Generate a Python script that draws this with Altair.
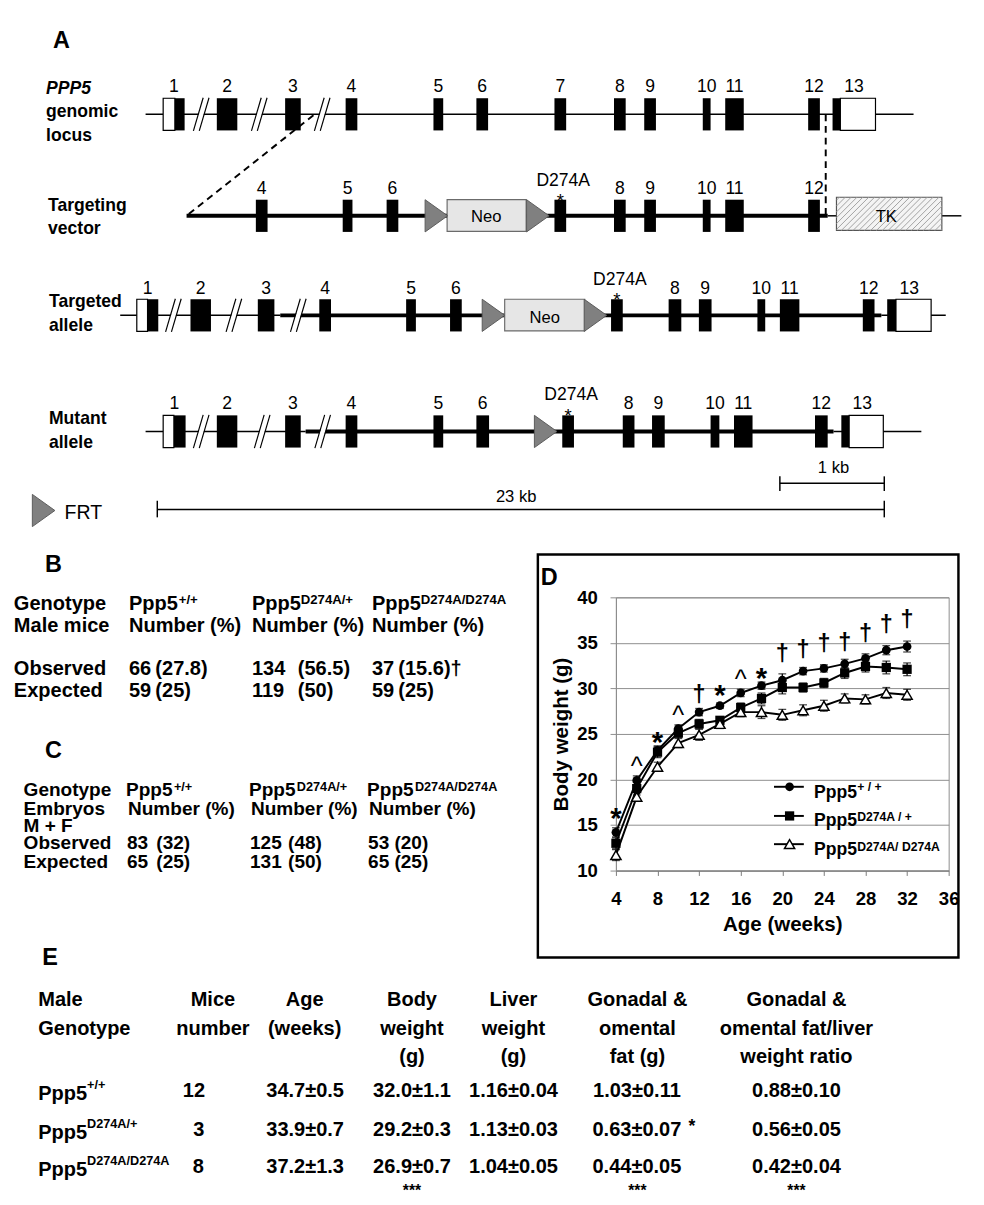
import altair as alt
import pandas as pd

FONT = "Liberation Sans"

# ======================= Panel A : gene-targeting schematic =======================
row_names = ["genomic", "vector", "targeted", "mutant"]
row_centre = [98, 202, 304, 423]
row_number_base = [75, 180, 282, 400]
row_half = 16.5

genomic_exon_labels = ["1", "2", "3", "4", "5", "6", "7", "8", "9", "10", "11", "12", "13"]
genomic_exon_start = [166, 221, 291, 353, 443, 487, 567, 628, 659, 719, 742, 827, 852]
genomic_exon_end = [188, 242, 307, 365, 453, 499, 579, 640, 671, 727, 761, 839, 896]

vector_exon_labels = ["4", "5", "6", "D274A", "8", "9", "10", "11", "12"]
vector_exon_start = [261, 350, 395, 567, 628, 659, 719, 742, 827]
vector_exon_end = [273, 360, 407, 579, 640, 671, 727, 761, 839]

targeted_exon_labels = ["1", "2", "3", "4", "5", "6", "D274A", "8", "9", "10", "11", "12", "13"]
targeted_exon_start = [139, 194, 263, 326, 415, 460, 625, 684, 715, 775, 798, 883, 908]
targeted_exon_end = [161, 215, 280, 338, 425, 472, 637, 697, 728, 783, 818, 895, 953]

mutant_exon_labels = ["1", "2", "3", "4", "5", "6", "D274A", "8", "9", "10", "11", "12", "13"]
mutant_exon_start = [166, 221, 291, 353, 443, 487, 575, 637, 667, 727, 751, 834, 861]
mutant_exon_end = [189, 242, 307, 365, 453, 500, 587, 649, 680, 736, 770, 847, 904]

utr_row = ["genomic", "genomic", "targeted", "targeted", "mutant", "mutant"]
utr_start = [166, 860, 139, 917, 166, 869]
utr_end = [178, 896, 150, 953, 177, 904]

backbone_row = ["genomic", "vector", "vector", "vector", "targeted", "targeted", "targeted",
                "mutant", "mutant", "mutant"]
backbone_start = [148, 190, 847, 964, 122, 286, 902, 148, 312, 853]
backbone_end = [935, 847, 856, 984, 286, 902, 968, 312, 853, 943]
backbone_width = [1.5, 4, 1.5, 1.5, 1.5, 4, 1.5, 1.5, 4, 1.5]

break_row = ["genomic"] * 3 + ["targeted"] * 3 + ["mutant"] * 3
break_x = [205, 264.5, 329, 176.5, 238.5, 304.5, 205, 267.5, 329.5]

frt_row = ["vector", "vector", "targeted", "targeted", "mutant"]
frt_x = [446, 550, 504.5, 609, 558]

neo_row = ["vector", "targeted"]
neo_start = [457, 516]
neo_end = [538, 598]

tk_start, tk_end, tk_top, tk_bottom = 856, 964, 183, 217

row_title_lines = ["PPP5", "genomic", "locus", "Targeting", "vector", "Targeted", "allele", "Mutant", "allele"]
row_title_x = [46, 46, 46, 48, 48, 49, 49, 49, 49]
row_title_base = [77, 101, 125, 197, 221, 295, 320, 415, 440]

# ======================= Panels B and C : genotype tables =======================
geno_sup = ["+/+", "D274A/+", "D274A/D274A"]
b_observed_n = ["66", "134", "37"]
b_observed_pct = ["(27.8)", "(56.5)", "(15.6)\u2020"]
b_expected_n = ["59", "119", "59"]
b_expected_pct = ["(25)", "(50)", "(25)"]
c_observed_n = ["83", "125", "53"]
c_observed_pct = ["(32)", "(48)", "(20)"]
c_expected_n = ["65", "131", "65"]
c_expected_pct = ["(25)", "(50)", "(25)"]

# ======================= Panel E : organ weight table =======================
e_mice = ["12", "3", "8"]
e_age = ["34.7\u00b10.5", "33.9\u00b10.7", "37.2\u00b11.3"]
e_body = ["32.0\u00b11.1", "29.2\u00b10.3", "26.9\u00b10.7"]
e_liver = ["1.16\u00b10.04", "1.13\u00b10.03", "1.04\u00b10.05"]
e_fat = ["1.03\u00b10.11", "0.63\u00b10.07", "0.44\u00b10.05"]
e_ratio = ["0.88\u00b10.10", "0.56\u00b10.05", "0.42\u00b10.04"]

# ======================= Panel D : body weight curves =======================
weeks = [4, 6, 8, 10, 12, 14, 16, 18, 20, 22, 24, 26, 28, 30, 32]
wt_mean = [14.2, 19.9, 23.2, 25.6, 27.4, 28.1, 29.5, 30.3, 30.9, 31.9, 32.2, 32.7, 33.3, 34.2, 34.6]
wt_sem = [0.5, 0.5, 0.5, 0.4, 0.4, 0.3, 0.4, 0.4, 0.7, 0.4, 0.4, 0.5, 0.5, 0.5, 0.6]
het_mean = [13.0, 19.0, 23.0, 25.1, 26.1, 26.5, 27.9, 28.9, 30.1, 30.1, 30.6, 31.7, 32.4, 32.3, 32.1]
het_sem = [0.6, 0.7, 0.6, 0.5, 0.5, 0.4, 0.5, 0.6, 0.7, 0.5, 0.5, 0.6, 0.6, 0.7, 0.7]
ko_mean = [11.7, 18.1, 21.4, 24.0, 24.9, 26.1, 27.4, 27.4, 27.1, 27.6, 28.1, 28.9, 28.8, 29.5, 29.3]
ko_sem = [0.6, 0.5, 0.5, 0.5, 0.6, 0.5, 0.5, 0.7, 0.6, 0.6, 0.6, 0.5, 0.5, 0.6, 0.6]

sig_week = [4, 6, 8, 10, 12, 14, 16, 18, 20, 22, 24, 26, 28, 30, 32]
sig_symbol = ["*", "^", "*", "^", "\u2020", "*", "^", "*", "\u2020", "\u2020", "\u2020", "\u2020", "\u2020", "\u2020", "\u2020"]
sig_level = [16.5, 22.0, 24.8, 27.6, 29.1, 30.0, 31.6, 31.9, 33.6, 34.1, 34.8, 34.9, 35.9, 36.8, 37.4]

legend_sup = ["+ / +", "D274A / +", "D274A/ D274A"]
legend_level = [19.2, 16.0, 12.9]

# ------------------------------------------------------------------------------
CY = dict(zip(row_names, row_centre))
NB = dict(zip(row_names, row_number_base))

# pixel-space scales for the schematic / tables (figure coordinates, page margin removed)
PX = alt.Scale(domain=[8, 630], nice=False, zero=False)
PY = alt.Scale(domain=[8, 1205], nice=False, zero=False, reverse=True)


def px(f):
    return alt.X(f, type="quantitative", scale=PX, axis=None)


def py(f):
    return alt.Y(f, type="quantitative", scale=PY, axis=None)


texts = []


def T(x, y, s, size, weight="bold", align="left", style="normal"):
    texts.append(dict(x=x, y=y, text=s, size=size, weight=weight, align=align, style=style))


# exons and their labels
exon_rects = []
for row, labels, starts, ends in [
    ("genomic", genomic_exon_labels, genomic_exon_start, genomic_exon_end),
    ("vector", vector_exon_labels, vector_exon_start, vector_exon_end),
    ("targeted", targeted_exon_labels, targeted_exon_start, targeted_exon_end),
    ("mutant", mutant_exon_labels, mutant_exon_start, mutant_exon_end),
]:
    for lab, a, b in zip(labels, starts, ends):
        exon_rects.append(dict(x=a, x2=b, y=CY[row] - row_half, y2=CY[row] + row_half))
        c = (a + b) / 2
        if lab == "D274A":
            T(c + 3, NB[row] - 9, "D274A", 18, weight="normal", align="center")
            T(c, CY[row] - row_half + 7, "*", 19, weight="normal", align="center")
        else:
            T(c, NB[row], lab, 18, weight="normal", align="center")
exon_df = pd.DataFrame(exon_rects)

utr_df = pd.DataFrame(dict(x=utr_start, x2=utr_end,
                           y=[CY[r] - row_half for r in utr_row], y2=[CY[r] + row_half for r in utr_row]))
bb_df = pd.DataFrame(dict(x=backbone_start, x2=backbone_end, y=[CY[r] for r in backbone_row], w=backbone_width))

brk_white, brk_black = [], []
for r, xm in zip(break_row, break_x):
    cy = CY[r]
    brk_white.append(dict(x=xm - 5, y=cy + 13, x2=xm + 5, y2=cy - 13))
    for d in (-3, 3):
        brk_black.append(dict(x=xm - 5 + d, y=cy + 17, x2=xm + 5 + d, y2=cy - 17))
brkw_df = pd.DataFrame(brk_white)
brkb_df = pd.DataFrame(brk_black)

frt_df = pd.DataFrame(dict(x=frt_x + [43.5], y=[CY[r] for r in frt_row] + [504]))
neo_df = pd.DataFrame(dict(x=neo_start, x2=neo_end,
                           y=[CY[r] - 16.5 for r in neo_row], y2=[CY[r] + 16 for r in neo_row]))
tk_df = pd.DataFrame(dict(x=[tk_start], x2=[tk_end], y=[tk_top], y2=[tk_bottom]))

hatch = []
H = tk_bottom - tk_top
s = tk_start - H + 3
while s < tk_end:
    xa, ya = s, tk_bottom
    xb, yb = s + H, tk_top
    if xa < tk_start:
        ya = tk_bottom - (tk_start - xa)
        xa = tk_start
    if xb > tk_end:
        yb = tk_top + (xb - tk_end)
        xb = tk_end
    hatch.append(dict(x=xa, y=ya, x2=xb, y2=yb))
    s += 6
hatch_df = pd.DataFrame(hatch)

dash_df = pd.DataFrame(dict(x=[320, 845], y=[99, 98], x2=[190, 845], y2=[202, 203]))
bar_df = pd.DataFrame(dict(x=[798, 160, 798, 905, 160, 905], x2=[905, 905, 798, 905, 160, 905],
                           y=[476, 503, 469, 469, 494, 494], y2=[476, 503, 484, 484, 511, 511]))
box_df = pd.DataFrame(dict(x=[550], x2=[981], y=[549], y2=[962]))

# ---------------- text content ----------------
T(53, 30, "A", 24)
for s_, x_, y_ in zip(row_title_lines, row_title_x, row_title_base):
    T(x_, y_, s_, 18, style="italic" if s_ == "PPP5" else "normal")
T(507, 495, "23 kb", 17, weight="normal")
T(853, 466, "1 kb", 17, weight="normal", align="center")
T(65, 513, "FRT", 20, weight="normal")
T(497, 208, "Neo", 17, weight="normal", align="center")
T(557, 312, "Neo", 17, weight="normal", align="center")
T(907, 208, "TK", 17, weight="normal", align="center")

# Panel B
T(45, 567, "B", 24)
T(13, 606, "Genotype", 20.5)
T(13, 628, "Male mice", 20.5)
T(13, 673, "Observed", 20.5)
T(13, 695, "Expected", 20.5)
for i, (cx, cp, sx) in enumerate(zip([131, 257, 380], [158, 304, 407], [182, 307, 430])):
    T(cx, 606, "Ppp5", 20.5)
    T(sx, 600, geno_sup[i], 13.5)
    T(cx, 628, "Number (%)", 20.5)
    T(cx, 673, b_observed_n[i], 20.5)
    T(cp, 673, b_observed_pct[i], 20.5)
    T(cx, 695, b_expected_n[i], 20.5)
    T(cp, 695, b_expected_pct[i], 20.5)

# Panel C
T(45, 758, "C", 24)
for s_, y_ in zip(["Genotype", "Embryos", "M + F", "Observed", "Expected"], [797, 816, 833, 851, 870]):
    T(23, y_, s_, 19.5)
for i, (cx, cp, sx) in enumerate(zip([128, 254, 375], [159, 294, 403], [177, 303, 424])):
    T(cx, 797, "Ppp5", 19.5)
    T(sx, 791, geno_sup[i], 13)
    T(cx + 2, 816, "Number (%)", 19.5)
    T(cx + 1, 851, c_observed_n[i], 19.5)
    T(cp, 851, c_observed_pct[i], 19.5)
    T(cx + 1, 870, c_expected_n[i], 19.5)
    T(cp, 870, c_expected_pct[i], 19.5)

# Panel D frame label
T(553, 580, "D", 24)

# Panel E
T(42, 970, "E", 24)
h1, h2, h3 = 1012, 1042, 1070
T(38, h1, "Male", 20.5)
T(38, h2, "Genotype", 20.5)
for cx, lines in [(217, ["Mice", "number"]), (311, ["Age", "(weeks)"]), (421, ["Body", "weight", "(g)"]),
                  (525, ["Liver", "weight", "(g)"]), (652, ["Gonadal &", "omental", "fat (g)"]),
                  (815, ["Gonadal &", "omental fat/liver", "weight ratio"])]:
    for s_, y_ in zip(lines, [h1, h2, h3]):
        T(cx, y_, s_, 20.5, align="center")
row_base = [1105, 1145, 1183]
for i in range(3):
    T(38, row_base[i] + 3, "Ppp5", 20.5)
    T(88, row_base[i] - 8, geno_sup[i], 13)
    T([197.5, 202.5, 202][i], row_base[i], e_mice[i], 20.5, align="center")
    T(311.5, row_base[i], e_age[i], 20.5, align="center")
    T(421, row_base[i], e_body[i], 20.5, align="center")
    T(525, row_base[i], e_liver[i], 20.5, align="center")
    T(651.5, row_base[i], e_fat[i], 20.5, align="center")
    T(815, row_base[i], e_ratio[i], 20.5, align="center")
T(708, 1141, "*", 18, align="center")
for cx in [421, 652, 815]:
    T(cx, 1207, "***", 16, align="center")

text_df = pd.DataFrame(texts)

# ---------------- pixel layers ----------------
p_layers = [
    alt.Chart(bb_df).mark_rule(color="black").encode(
        x=px("x"), x2="x2", y=py("y"), strokeWidth=alt.StrokeWidth("w:Q", scale=None)),
    alt.Chart(dash_df).mark_rule(color="black", strokeWidth=2, strokeDash=[7, 5]).encode(
        x=px("x"), x2="x2", y=py("y"), y2="y2"),
    alt.Chart(brkw_df).mark_rule(color="white", strokeWidth=5).encode(x=px("x"), x2="x2", y=py("y"), y2="y2"),
    alt.Chart(brkb_df).mark_rule(color="black", strokeWidth=1.2).encode(x=px("x"), x2="x2", y=py("y"), y2="y2"),
    alt.Chart(exon_df).mark_rect(color="black").encode(x=px("x"), x2="x2", y=py("y"), y2="y2"),
    alt.Chart(utr_df).mark_rect(fill="white", stroke="black", strokeWidth=1.2).encode(
        x=px("x"), x2="x2", y=py("y"), y2="y2"),
    alt.Chart(neo_df).mark_rect(fill="#e6e6e6", stroke="#6b6b6b", strokeWidth=1.2).encode(
        x=px("x"), x2="x2", y=py("y"), y2="y2"),
    alt.Chart(tk_df).mark_rect(fill="#f4f4f4", stroke="#555555", strokeWidth=1.2).encode(
        x=px("x"), x2="x2", y=py("y"), y2="y2"),
    alt.Chart(hatch_df).mark_rule(color="#a0a0a0", strokeWidth=1).encode(x=px("x"), x2="x2", y=py("y"), y2="y2"),
    alt.Chart(frt_df).mark_point(shape="M-0.7,-1L0.7,0L-0.7,1Z", size=1089, filled=True, fill="#808080",
                                 stroke="#5a5a5a", strokeWidth=1, opacity=1).encode(x=px("x"), y=py("y")),
    alt.Chart(bar_df).mark_rule(color="black", strokeWidth=1.5).encode(x=px("x"), x2="x2", y=py("y"), y2="y2"),
    alt.Chart(box_df).mark_rect(fill="transparent", stroke="black", strokeWidth=2.5).encode(
        x=px("x"), x2="x2", y=py("y"), y2="y2"),
]
for (w, al, st), sub in text_df.groupby(["weight", "align", "style"]):
    p_layers.append(
        alt.Chart(sub.reset_index(drop=True)).mark_text(
            font=FONT, fontWeight=w, align=al, fontStyle=st, baseline="alphabetic", color="black"
        ).encode(x=px("x"), y=py("y"), text="text:N", size=alt.Size("size:Q", scale=None))
    )
P = alt.layer(*p_layers).properties(width=622, height=1197)

# ---------------- Panel D chart ----------------
XS = alt.Scale(domain=[4, 36], nice=False, zero=False)
YS = alt.Scale(domain=[10, 40], nice=False, zero=False)
XAX = alt.Axis(values=list(range(4, 37, 4)), title="Age (weeks)", grid=False, labelFont=FONT, titleFont=FONT,
               labelFontSize=19, labelFontWeight="bold", titleFontSize=21, titleFontWeight="bold",
               labelColor="black", titleColor="black", domainColor="#7a7a7a", tickColor="#7a7a7a",
               tickSize=5, labelPadding=15, titlePadding=5, labelFlush=False)
YAX = alt.Axis(values=list(range(10, 41, 5)), title="Body weight (g)", grid=True, gridColor="#8c8c8c",
               labelFont=FONT, titleFont=FONT, labelFontSize=19, labelFontWeight="bold", titleFontSize=21,
               titleFontWeight="bold", labelColor="black", titleColor="black", domainColor="#8c8c8c",
               tickColor="#8c8c8c", tickSize=6, labelPadding=13, titlePadding=5, labelFlush=False)


def dxe(f):
    return alt.X(f, type="quantitative", scale=XS, axis=XAX)


def dye(f):
    return alt.Y(f, type="quantitative", scale=YS, axis=YAX)


ser = []
for g, m, e in [("wt", wt_mean, wt_sem), ("het", het_mean, het_sem), ("ko", ko_mean, ko_sem)]:
    for wk, mv, sv in zip(weeks, m, e):
        ser.append(dict(g=g, x=wk, y=mv, lo=mv - sv, hi=mv + sv))
ser_df = pd.DataFrame(ser)

leg_x0, leg_x1, leg_mark_x, leg_text_x, leg_sup_x = 19.2, 22.07, 20.7, 23.05, 27.2
leg_line_df = pd.DataFrame(dict(x=[leg_x0] * 3, x2=[leg_x1] * 3, y=legend_level))


def pts(g, i):
    d = ser_df[ser_df.g == g][["x", "y"]]
    return pd.concat([d, pd.DataFrame(dict(x=[leg_mark_x], y=[legend_level[i]]))], ignore_index=True)


sig_df = pd.DataFrame(dict(x=sig_week, y=sig_level, t=sig_symbol))
leg_text_df = pd.DataFrame(dict(x=[leg_text_x] * 3, y=[17.95, 14.9, 11.7], t=["Ppp5"] * 3))
leg_sup_df = pd.DataFrame(dict(x=[leg_sup_x] * 3, y=[18.7, 15.4, 12.1], t=legend_sup))

d_layers = [
    alt.Chart(ser_df).mark_line(color="black", strokeWidth=2).encode(x=dxe("x"), y=dye("y"), detail="g:N"),
    alt.Chart(ser_df).mark_rule(color="black", strokeWidth=1.3).encode(x=dxe("x"), y=dye("lo"), y2="hi"),
    alt.Chart(ser_df).mark_tick(color="black", orient="horizontal", size=8, thickness=1.3).encode(
        x=dxe("x"), y=dye("lo")),
    alt.Chart(ser_df).mark_tick(color="black", orient="horizontal", size=8, thickness=1.3).encode(
        x=dxe("x"), y=dye("hi")),
    alt.Chart(leg_line_df).mark_rule(color="black", strokeWidth=2).encode(x=dxe("x"), x2="x2", y=dye("y")),
    alt.Chart(pts("wt", 0)).mark_point(shape="circle", filled=True, color="black", size=80, opacity=1).encode(
        x=dxe("x"), y=dye("y")),
    alt.Chart(pts("het", 1)).mark_point(shape="square", filled=True, color="black", size=90, opacity=1).encode(
        x=dxe("x"), y=dye("y")),
    alt.Chart(pts("ko", 2)).mark_point(shape="triangle-up", filled=True, fill="white", stroke="black",
                                       strokeWidth=1.5, size=110, opacity=1).encode(x=dxe("x"), y=dye("y")),
    alt.Chart(sig_df[sig_df.t == "*"]).mark_text(font=FONT, fontWeight="bold", fontSize=30, dy=17,
                                                 baseline="alphabetic", color="black").encode(
        x=dxe("x"), y=dye("y"), text="t:N"),
    alt.Chart(sig_df[sig_df.t == "^"]).mark_text(font=FONT, fontSize=26, dy=14,
                                                 baseline="alphabetic", color="black").encode(
        x=dxe("x"), y=dye("y"), text="t:N"),
    alt.Chart(sig_df[sig_df.t == "\u2020"]).mark_text(font=FONT, fontWeight="bold", fontSize=24, dy=6,
                                                      baseline="alphabetic", color="black").encode(
        x=dxe("x"), y=dye("y"), text="t:N"),
    alt.Chart(leg_text_df).mark_text(font=FONT, fontWeight="bold", fontSize=18, align="left",
                                     baseline="alphabetic", color="black").encode(
        x=dxe("x"), y=dye("y"), text="t:N"),
    alt.Chart(leg_sup_df).mark_text(font=FONT, fontWeight="bold", fontSize=12.5, align="left",
                                    baseline="alphabetic", color="black").encode(
        x=dxe("x"), y=dye("y"), text="t:N"),
]
D = alt.layer(*d_layers).properties(width=341, height=280,
                                    view=alt.ViewBackground(stroke="#8c8c8c", strokeWidth=1))


def spacer(h):
    return alt.Chart(pd.DataFrame({"v": [0]})).mark_point(opacity=0).encode(
        x=alt.value(0), y=alt.value(0)).properties(width=341, height=h)


right = alt.vconcat(spacer(585), D, spacer(332), spacing=0, bounds="flush")
chart = alt.hconcat(P, right, spacing=0, bounds="flush").properties(
    padding={"left": 0, "top": 0, "right": 13, "bottom": 0}
).configure(font=FONT, view=alt.ViewConfig(stroke="transparent"))

chart.save("out.html", embed_options={"renderer": "svg", "actions": False})
